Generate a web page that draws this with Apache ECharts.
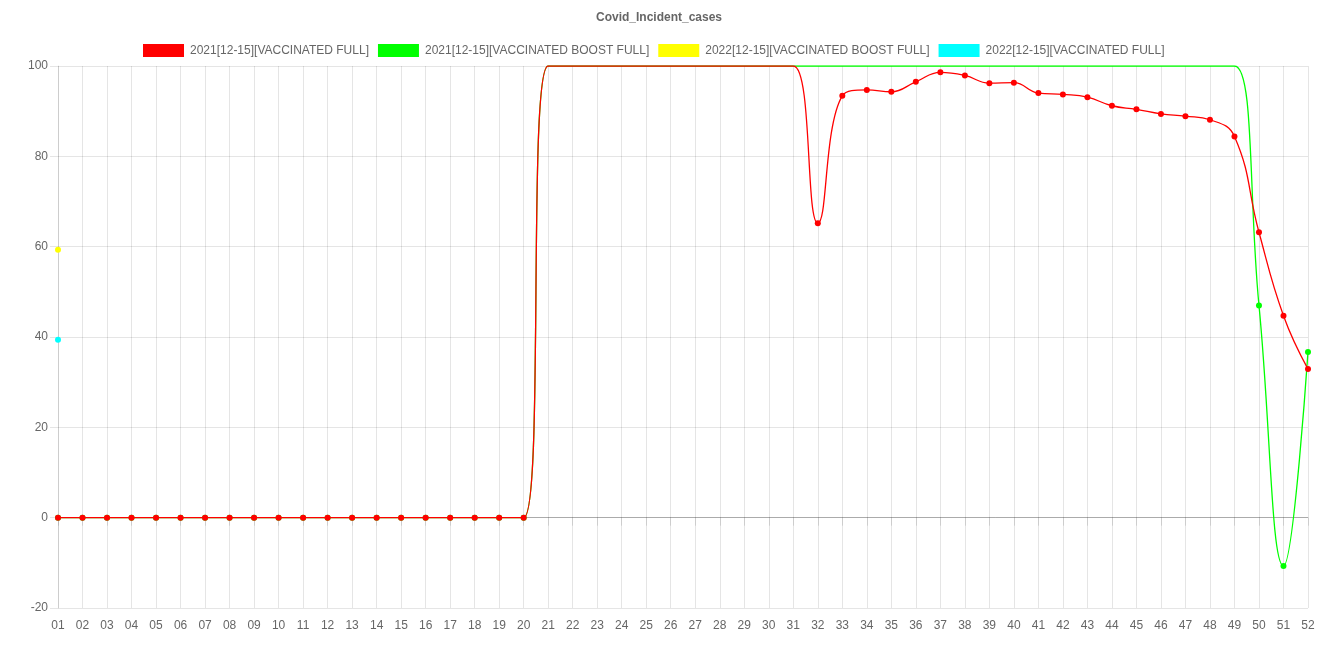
<!DOCTYPE html>
<html><head><meta charset="utf-8">
<script src="https://cdn.jsdelivr.net/npm/echarts@6/dist/echarts.min.js"></script>
<style>html,body{margin:0;padding:0;background:#fff}#c{width:1318px;height:659px}</style>
</head><body><div id="c"></div>
<script>
const weeks = ['01','02','03','04','05','06','07','08','09','10','11','12','13','14','15','16','17','18','19','20','21','22','23','24','25','26','27','28','29','30','31','32','33','34','35','36','37','38','39','40','41','42','43','44','45','46','47','48','49','50','51','52'];
const names = ['2021[12-15][VACCINATED FULL]','2021[12-15][VACCINATED BOOST FULL]','2022[12-15][VACCINATED BOOST FULL]','2022[12-15][VACCINATED FULL]'];
const vaccinatedFull2021 = [0,0,0,0,0,0,0,0,0,0,0,0,0,0,0,0,0,0,0,0,100,100,100,100,100,100,100,100,100,100,100,65.2,93.4,94.7,94.3,96.5,98.6,97.9,96.2,96.3,94.0,93.7,93.1,91.2,90.4,89.4,88.9,88.1,84.4,63.2,44.7,32.9];
const boostFull2021 = [0,0,0,0,0,0,0,0,0,0,0,0,0,0,0,0,0,0,0,0,100,100,100,100,100,100,100,100,100,100,100,100,100,100,100,100,100,100,100,100,100,100,100,100,100,100,100,100,100,47.0,-10.7,36.7];
const boostFull2022 = [59.3];
const vaccinatedFull2022 = [39.4];
const yTicks = {min:-20, max:100, interval:20};
const colors = ['#ff0000','#00ff00','#ffff00','#00ffff'];

const sym = function(v){ return (v >= 100) ? 0 : 6; };
function mk(name, data, color, z){
  return {name:name, type:'line', data:data, smooth:0.45, symbol:'circle', symbolSize:sym,
    showSymbol:true, showAllSymbol:true, clip:true, z:z,
    lineStyle:{color:color, width:1.3}, itemStyle:{color:color}};
}
const chart = echarts.init(document.getElementById('c'), null, {renderer:'canvas'});
chart.setOption({
  animation:false,
  backgroundColor:'#fff',
  color:colors,
  title:{text:'Covid_Incident_cases', left:'center', top:7, textStyle:{fontFamily:'Liberation Sans, Arial', fontSize:12, fontWeight:'bold', color:'#666'}},
  legend:{top:44, left:143, padding:0, itemWidth:41, itemHeight:13, itemGap:9, icon:'rect',
    textStyle:{fontFamily:'Liberation Sans, Arial', fontSize:12, color:'#666', padding:[0,0,0,1]},
    data:names},
  grid:{left:58, right:10, top:66, bottom:51, containLabel:false},
  xAxis:{type:'category', data:weeks, boundaryGap:false,
    axisLine:{show:true, lineStyle:{color:'rgba(0,0,0,0.1)'}},
    axisTick:{show:true, length:8, lineStyle:{color:'rgba(0,0,0,0.1)'}},
    axisLabel:{interval:0, margin:12, fontFamily:'Liberation Sans, Arial', fontSize:12, color:'#666'},
    splitLine:{show:true, interval:0, lineStyle:{color:'rgba(0,0,0,0.1)'}}},
  yAxis:{type:'value', min:yTicks.min, max:yTicks.max, interval:yTicks.interval,
    axisLine:{show:true, lineStyle:{color:'rgba(0,0,0,0.1)'}},
    axisTick:{show:true, length:8, lineStyle:{color:'rgba(0,0,0,0.1)'}},
    axisLabel:{margin:10, fontFamily:'Liberation Sans, Arial', fontSize:12, color:'#666'},
    splitLine:{show:true, lineStyle:{color:['rgba(0,0,0,0.1)','rgba(0,0,0,0.25)','rgba(0,0,0,0.1)','rgba(0,0,0,0.1)','rgba(0,0,0,0.1)','rgba(0,0,0,0.1)','rgba(0,0,0,0.1)']}}},
  series:[
    mk(names[0], vaccinatedFull2021, colors[0], 5),
    mk(names[1], boostFull2021, colors[1], 4),
    mk(names[2], boostFull2022, colors[2], 3),
    mk(names[3], vaccinatedFull2022, colors[3], 2)
  ]
});
</script></body></html>
